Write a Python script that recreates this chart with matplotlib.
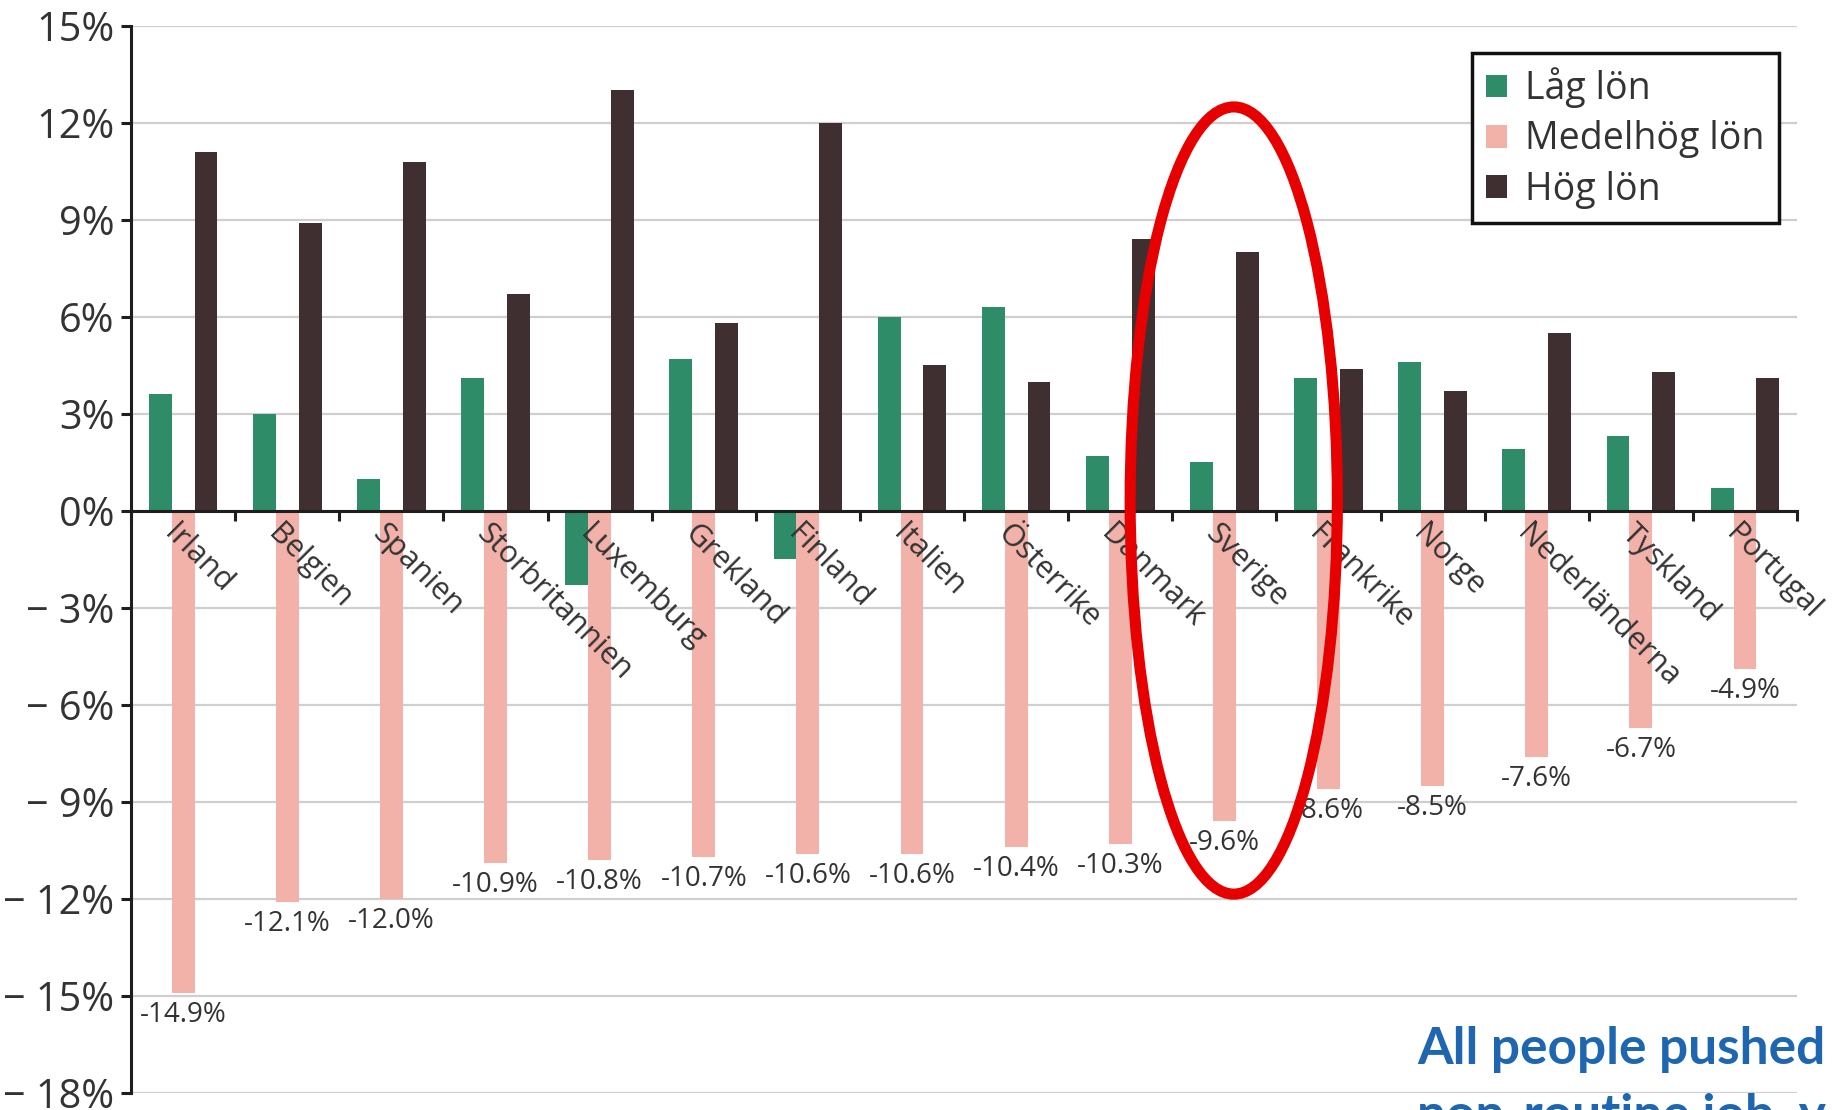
import numpy as np
import matplotlib
matplotlib.use("Agg")
import matplotlib.pyplot as plt
from matplotlib.patches import Ellipse

plt.rcParams["font.family"] = ["Open Sans", "DejaVu Sans"]

countries = ["Irland", "Belgien", "Spanien", "Storbritannien", "Luxemburg",
             "Grekland", "Finland", "Italien", "Österrike", "Danmark",
             "Sverige", "Frankrike", "Norge", "Nederländerna", "Tyskland",
             "Portugal"]
lag_lon = [3.6, 3.0, 1.0, 4.1, -2.3, 4.7, -1.5, 6.0, 6.3, 1.7,
           1.5, 4.1, 4.6, 1.9, 2.3, 0.7]
medel_lon = [-14.9, -12.1, -12.0, -10.9, -10.8, -10.7, -10.6, -10.6, -10.4, -10.3,
             -9.6, -8.6, -8.5, -7.6, -6.7, -4.9]
hog_lon = [11.1, 8.9, 10.8, 6.7, 13.0, 5.8, 12.0, 4.5, 4.0, 8.4,
           8.0, 4.4, 3.7, 5.5, 4.3, 4.1]
series_names = ["Låg lön", "Medelhög lön", "Hög lön"]
y_ticks = list(range(-18, 16, 3))

GREEN = "#2e8c69"
PINK = "#f2b1a9"
DARK = "#3f2f30"
TEXT = "#333333"

fig = plt.figure(figsize=(18.33, 11.10), dpi=100)
ax = fig.add_axes([0.0715, 0.0153, 0.9089, 0.9615])

x = np.arange(len(countries))
w = 0.22

# horizontal guides behind the bars
for t in y_ticks:
    ax.axhline(t, color="#cfcfcf", lw=1.6, zorder=0)

ax.bar(x - w, lag_lon, w, color=GREEN, label=series_names[0], zorder=1)
ax.bar(x, medel_lon, w, color=PINK, label=series_names[1], zorder=1)
ax.bar(x + w, hog_lon, w, color=DARK, label=series_names[2], zorder=1)

for xi, v in zip(x, medel_lon):
    ax.text(xi, v - 0.25, f"-{abs(v):.1f}%", ha="center", va="top",
            fontsize=20, color=TEXT, zorder=3)

ax.set_xlim(-0.5, len(countries) - 0.5)
ax.set_ylim(-18, 15)

ax.spines["top"].set_visible(False)
ax.spines["right"].set_visible(False)
ax.spines["bottom"].set_position(("data", 0))
for s in ("left", "bottom"):
    ax.spines[s].set_linewidth(2.2)
    ax.spines[s].set_color("#1e1e1e")

ax.set_yticks(y_ticks)
ax.set_yticklabels([f"\u2212 {abs(t)}%" if t < 0 else f"{t}%" for t in y_ticks],
                   fontsize=28.5, color=TEXT)
ax.tick_params(axis="y", length=7, width=2.2, pad=5, color="#1e1e1e")

# group separators as major ticks, country names on minor ticks
ax.set_xticks(np.arange(-0.5, len(countries), 1.0))
ax.set_xticklabels([])
ax.set_xticks(x - 0.04, minor=True)
ax.set_xticklabels(countries, minor=True, fontsize=22, color=TEXT)
plt.setp(ax.get_xticklabels(minor=True), rotation=-45, ha="left", va="top",
         rotation_mode="anchor")
ax.tick_params(axis="x", which="major", length=7, width=2.2, color="#1e1e1e")
ax.tick_params(axis="x", which="minor", length=0, pad=6)

leg = ax.legend(loc="upper right", bbox_to_anchor=(1779 / 1833, 1 - 53 / 1110),
                bbox_transform=fig.transFigure, borderaxespad=0, fontsize=27,
                frameon=True, fancybox=False, edgecolor="#111111", framealpha=1,
                handlelength=0.55, handleheight=0.55, handletextpad=0.5,
                labelspacing=0.33, borderpad=0.38)
leg.get_frame().set_linewidth(2.5)
for t in leg.get_texts():
    t.set_color(TEXT)

ax.add_patch(Ellipse((10.09, 0.32), 1.99, 24.34, fill=False,
                     edgecolor="#e60000", lw=8, zorder=5, clip_on=False))

fig.text(1417 / 1833, 1 - 1064 / 1110, "All people pushed", color="#1f66b0",
         fontsize=37, fontweight="bold", family="Lato", ha="left", va="baseline")
fig.text(1417 / 1833, 1 - 1130 / 1110, "non-routine job, y", color="#1f66b0",
         fontsize=37, fontweight="bold", family="Lato", ha="left", va="baseline")

fig.savefig("out.png", dpi=100)
plt.close(fig)
